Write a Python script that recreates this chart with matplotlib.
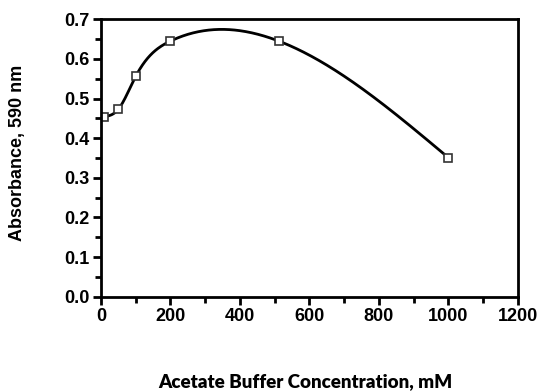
import numpy as np
import matplotlib.pyplot as plt
from matplotlib.ticker import MultipleLocator

conc = [10, 50, 100, 200, 512, 1000]
absorb = [0.454, 0.473, 0.556, 0.645, 0.645, 0.351]


def natural_spline(x, y, xs):
    x = np.asarray(x, float)
    y = np.asarray(y, float)
    n = len(x)
    h = np.diff(x)
    A = np.zeros((n, n))
    b = np.zeros(n)
    A[0, 0] = A[-1, -1] = 1
    for i in range(1, n - 1):
        A[i, i - 1] = h[i - 1]
        A[i, i] = 2 * (h[i - 1] + h[i])
        A[i, i + 1] = h[i]
        b[i] = 3 * ((y[i + 1] - y[i]) / h[i] - (y[i] - y[i - 1]) / h[i - 1])
    c = np.linalg.solve(A, b)
    out = np.empty_like(xs)
    for k, xv in enumerate(xs):
        i = min(max(np.searchsorted(x, xv) - 1, 0), n - 2)
        dx = xv - x[i]
        bi = (y[i + 1] - y[i]) / h[i] - h[i] * (2 * c[i] + c[i + 1]) / 3
        di = (c[i + 1] - c[i]) / (3 * h[i])
        out[k] = y[i] + bi * dx + c[i] * dx ** 2 + di * dx ** 3
    return out


xs = np.linspace(conc[0], conc[-1], 400)
ys = natural_spline(conc, absorb, xs)

fig = plt.figure(figsize=(5.42, 3.92), dpi=100)
ax = fig.add_axes([0.1863, 0.2431, 0.769, 0.7077])

ax.plot(xs, ys, color='black', lw=2)
ax.plot(conc, absorb, ls='none', marker='s', ms=5.5, mfc='white',
        mec='#333333', mew=1.2)

ax.set_xlim(0, 1200)
ax.set_ylim(0, 0.7)
ax.xaxis.set_major_locator(MultipleLocator(200))
ax.xaxis.set_minor_locator(MultipleLocator(100))
ax.yaxis.set_major_locator(MultipleLocator(0.1))
ax.yaxis.set_minor_locator(MultipleLocator(0.05))
ax.yaxis.set_major_formatter(plt.FormatStrFormatter('%.1f'))

for s in ax.spines.values():
    s.set_linewidth(2)
ax.tick_params(which='major', direction='out', length=6, width=2,
               labelsize=13, pad=2)
ax.tick_params(which='minor', direction='out', length=4, width=2)
for lbl in ax.get_xticklabels() + ax.get_yticklabels():
    lbl.set_fontfamily('Liberation Sans')
    lbl.set_fontweight('bold')

ax.set_ylabel('Absorbance, 590 nm', fontfamily='Liberation Sans',
              fontweight='bold', fontsize=13)
ax.yaxis.set_label_coords(-0.18, 0.52)
ax.set_xlabel('Acetate Buffer Concentration, mM', fontfamily='Lato',
              fontweight='heavy', fontsize=13.5)
ax.xaxis.set_label_coords(0.49, -0.275)

plt.savefig('out.png', dpi=100)
